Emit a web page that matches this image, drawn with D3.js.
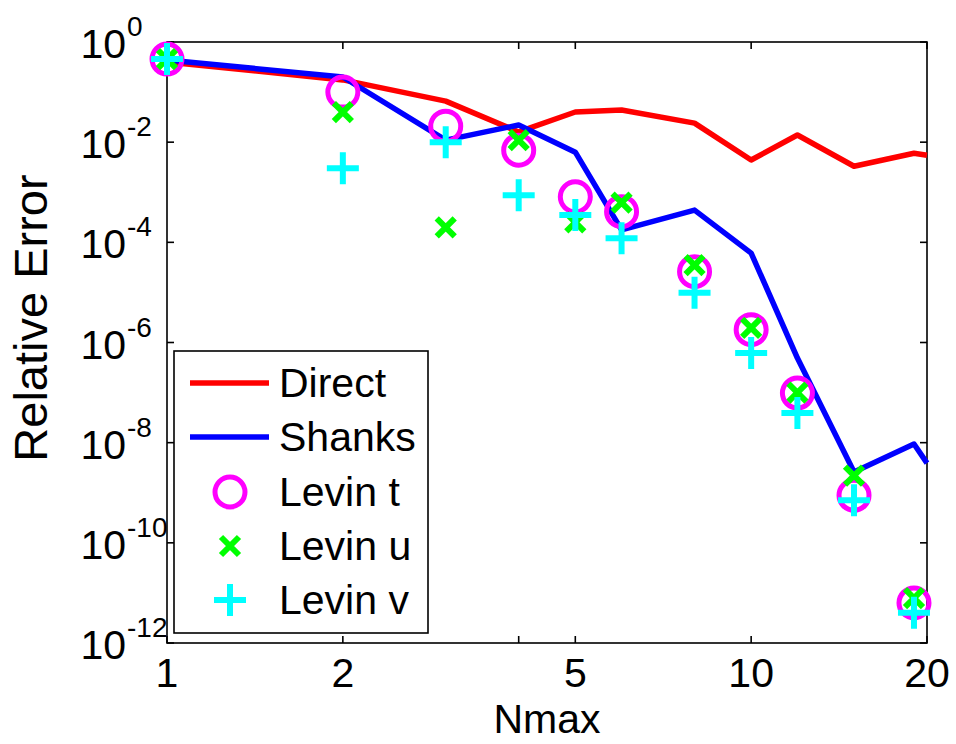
<!DOCTYPE html>
<html>
<head>
<meta charset="utf-8">
<script src="https://cdn.jsdelivr.net/npm/d3@7/dist/d3.min.js"></script>
<style>
  html, body { margin: 0; padding: 0; background: #fff; }
  svg { display: block; }
  text { font-family: "Liberation Sans", Arial, sans-serif; fill: #000; }
</style>
</head>
<body>
<svg id="chart" width="956" height="744"></svg>
<script>
// ---- data ----
const directN   = [1, 2, 3, 4, 5, 6, 8, 10, 12, 15, 19, 20];
const directErr = [0.40, 0.175, 0.066, 0.016, 0.040, 0.044, 0.024, 0.0044, 0.0139, 0.0033, 0.0060, 0.0055];

const shanksN   = [1, 2, 3, 4, 5, 6, 8, 10, 12, 15, 19, 20];
const shanksErr = [0.437, 0.20, 0.011, 0.022, 0.0063, 1.77e-4, 4.4e-4, 6.1e-5, 4.9e-7, 2.6e-9, 9.4e-9, 3.9e-9];

const levinN    = [1, 2, 3, 4, 5, 6, 8, 10, 12, 15, 19];
const levinT    = [0.457, 0.10, 0.0209, 0.0069, 8.1e-4, 4.1e-4, 2.6e-5, 1.8e-6, 9.8e-8, 8.9e-10, 6.3e-12];
const levinU    = [0.457, 0.040, 2.0e-4, 0.011, 2.5e-4, 6.2e-4, 3.5e-5, 1.95e-6, 1.0e-7, 2.2e-9, 7.9e-12];
const levinV    = [0.457, 3.0e-3, 0.010, 8.7e-4, 3.5e-4, 1.2e-4, 9.8e-6, 6.2e-7, 3.9e-8, 7.1e-10, 4.0e-12];

const xTickValues = [1, 2, 4, 5, 10, 20];
const xTickLabels = ["1", "2", "", "5", "10", "20"];
const yTickExps   = [0, -2, -4, -6, -8, -10, -12];
const legendNames = ["Direct", "Shanks", "Levin t", "Levin u", "Levin v"];

// ---- layout ----
const L = 167, R = 927, T = 42, B = 643;
const FS = 41;

const svg = d3.select("#chart");
svg.append("rect").attr("width", 956).attr("height", 744).attr("fill", "#fff");

const x = d3.scaleLog().domain([1, 20]).range([L, R]);
const y = d3.scaleLog().domain([1e-12, 1]).range([B, T]);

// axes box
const axisG = svg.append("g");
axisG.append("rect").attr("x", L).attr("y", T).attr("width", R - L).attr("height", B - T)
  .attr("fill", "none").attr("stroke", "#000").attr("stroke-width", 1.6);

const tickLen = 7;
xTickValues.forEach((v, i) => {
  const px = x(v);
  axisG.append("line").attr("x1", px).attr("x2", px).attr("y1", B).attr("y2", B - tickLen)
    .attr("stroke", "#000").attr("stroke-width", 1.6);
  axisG.append("line").attr("x1", px).attr("x2", px).attr("y1", T).attr("y2", T + tickLen)
    .attr("stroke", "#000").attr("stroke-width", 1.6);
  if (xTickLabels[i]) {
    axisG.append("text").attr("x", px).attr("y", B + 44).attr("text-anchor", "middle")
      .attr("font-size", FS).text(xTickLabels[i]);
  }
});

yTickExps.forEach(e => {
  const py = y(Math.pow(10, e));
  axisG.append("line").attr("x1", L).attr("x2", L + tickLen).attr("y1", py).attr("y2", py)
    .attr("stroke", "#000").attr("stroke-width", 1.6);
  axisG.append("line").attr("x1", R).attr("x2", R - tickLen).attr("y1", py).attr("y2", py)
    .attr("stroke", "#000").attr("stroke-width", 1.6);
  axisG.append("text").attr("x", 126).attr("y", py + 16).attr("text-anchor", "end")
    .attr("font-size", FS).text("10");
  axisG.append("text").attr("x", 127).attr("y", py - 6).attr("text-anchor", "start")
    .attr("font-size", 28).text(String(e));
});

svg.append("text").attr("x", (L + R) / 2 - 0).attr("y", 733).attr("text-anchor", "middle")
  .attr("font-size", FS).text("Nmax");
svg.append("text").attr("transform", `translate(47, 318) rotate(-90)`)
  .attr("text-anchor", "middle").attr("font-size", 47).text("Relative Error");

// lines
const line = d3.line().x(d => x(d[0])).y(d => y(d[1]));
const directData = directN.map((n, i) => [n, directErr[i]]);
const shanksData = shanksN.map((n, i) => [n, shanksErr[i]]);
svg.append("path").datum(directData).attr("d", line).attr("fill", "none")
  .attr("stroke", "#ff0000").attr("stroke-width", 5.5).attr("stroke-linejoin", "round");
svg.append("path").datum(shanksData).attr("d", line).attr("fill", "none")
  .attr("stroke", "#0000ff").attr("stroke-width", 5.5).attr("stroke-linejoin", "round");

// markers
function circleMarker(g, cx, cy) {
  g.append("circle").attr("cx", cx).attr("cy", cy).attr("r", 15)
    .attr("fill", "none").attr("stroke", "#ff00ff").attr("stroke-width", 5);
}
function xMarker(g, cx, cy) {
  const s = 9;
  g.append("path").attr("d", `M${cx - s},${cy - s}L${cx + s},${cy + s}M${cx - s},${cy + s}L${cx + s},${cy - s}`)
    .attr("stroke", "#00ff00").attr("stroke-width", 6).attr("fill", "none");
}
function plusMarker(g, cx, cy) {
  const s = 16;
  g.append("path").attr("d", `M${cx - s},${cy}L${cx + s},${cy}M${cx},${cy - s}L${cx},${cy + s}`)
    .attr("stroke", "#00ffff").attr("stroke-width", 6).attr("fill", "none");
}
const mg = svg.append("g");
levinN.forEach((n, i) => circleMarker(mg, x(n), y(levinT[i])));
levinN.forEach((n, i) => xMarker(mg, x(n), y(levinU[i])));
levinN.forEach((n, i) => plusMarker(mg, x(n), y(levinV[i])));

// legend
const lg = svg.append("g");
lg.append("rect").attr("x", 174).attr("y", 351).attr("width", 254).attr("height", 282)
  .attr("fill", "#fff").attr("stroke", "#000").attr("stroke-width", 1.6);
const rowY = [383, 437, 492, 546, 600];
legendNames.forEach((name, i) => {
  const ry = rowY[i];
  if (i === 0 || i === 1) {
    lg.append("line").attr("x1", 190).attr("x2", 269).attr("y1", ry).attr("y2", ry)
      .attr("stroke", i === 0 ? "#ff0000" : "#0000ff").attr("stroke-width", 5.5);
  } else if (i === 2) circleMarker(lg, 230, ry);
  else if (i === 3) xMarker(lg, 230, ry);
  else plusMarker(lg, 230, ry);
  lg.append("text").attr("x", 279).attr("y", ry + 14).attr("font-size", FS).text(name);
});
</script>
</body>
</html>
